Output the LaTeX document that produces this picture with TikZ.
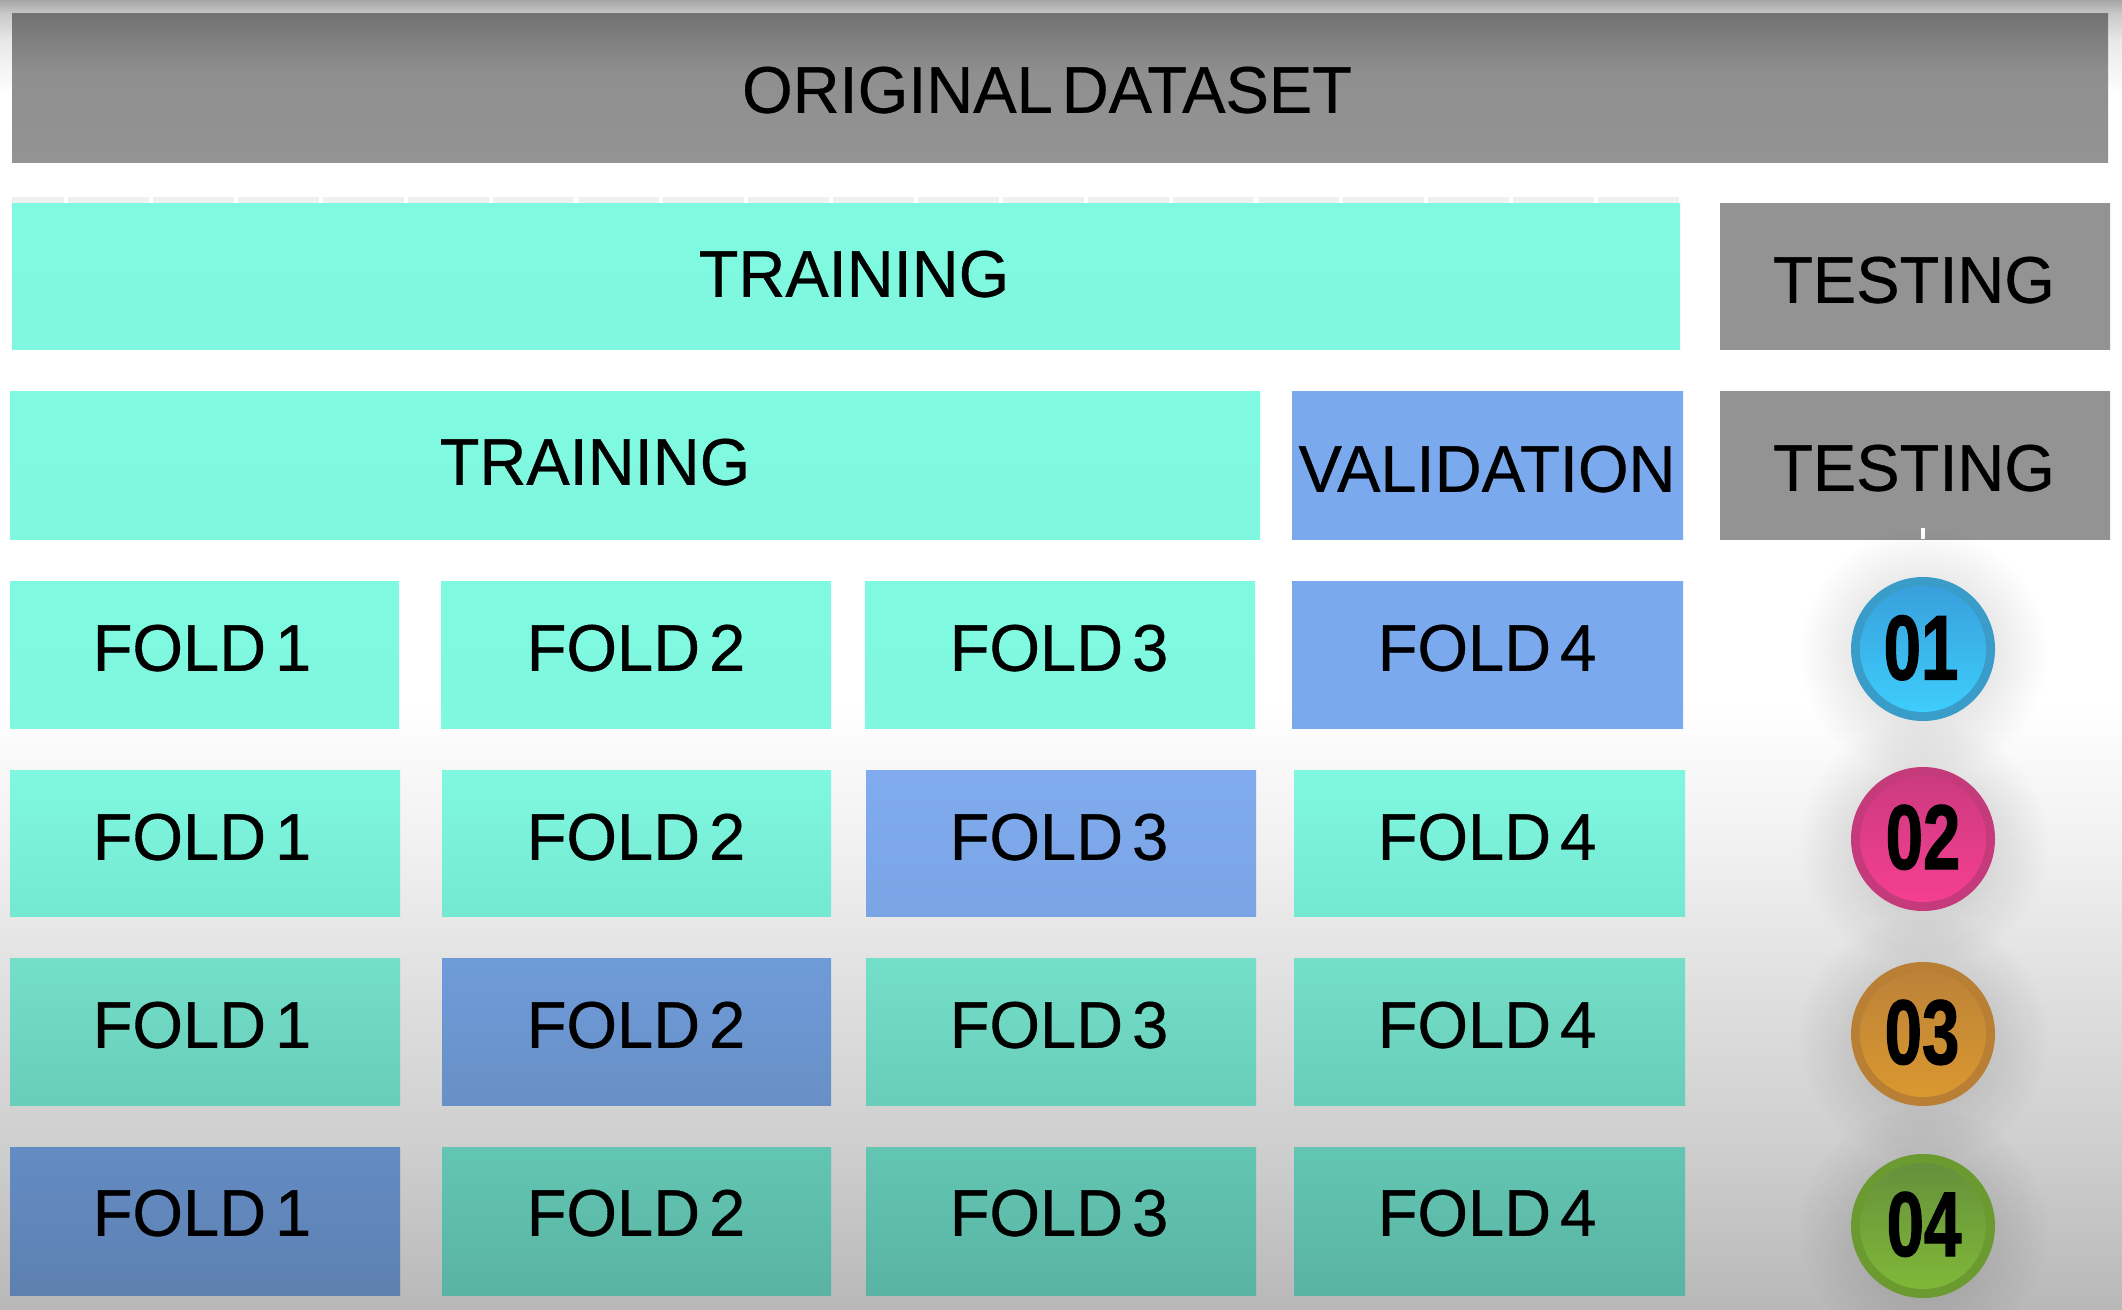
\documentclass[tikz,border=0pt]{standalone}
\usepackage{fontspec}
\setmainfont[FakeStretch=0.985,FakeBold=0.5]{Liberation Sans}
\newfontfamily\numfont[FakeStretch=0.73,FakeBold=1.2]{Liberation Sans Bold}
\usetikzlibrary{fadings}
\tikzfading[name=softglow, inner color=transparent!80, outer color=transparent!100]
\definecolor{bgA}{HTML}{A6A6A6}
\definecolor{bgB}{HTML}{C8C8C8}
\definecolor{bgC}{HTML}{E8E8E8}
\definecolor{bgD}{HTML}{F0F0F0}
\definecolor{bgE}{HTML}{DEDEDE}
\definecolor{bgF}{HTML}{CECECE}
\definecolor{bgG}{HTML}{B8B8B8}
\tikzset{
  x=1pt,y=-1pt,
  cellbox/.style={rectangle,inner sep=0pt,outer sep=0pt,draw=none},
  lbl/.style={inner sep=0pt,outer sep=0pt,text=black,font=\fontsize{66}{66}\selectfont,execute at begin node={\spaceskip=9pt plus 0pt\relax},text height=47.5pt,text depth=0pt},
  num/.style={inner sep=0pt,outer sep=0pt,text=black,font=\numfont\fontsize{92}{92}\selectfont,text height=66pt,text depth=0pt},
}
\definecolor{tA}{HTML}{80F9E1}
\definecolor{tB}{HTML}{80F8E0}
\definecolor{tC}{HTML}{74E8D2}
\definecolor{tD}{HTML}{74DFC8}
\definecolor{tE}{HTML}{68CDB9}
\definecolor{tF}{HTML}{62C6B2}
\definecolor{tG}{HTML}{5AB3A3}
\definecolor{bA}{HTML}{7AA9EE}
\definecolor{bB}{HTML}{80ABEE}
\definecolor{bC}{HTML}{7AA4E4}
\definecolor{bD}{HTML}{6F9BD9}
\definecolor{bE}{HTML}{6890C6}
\definecolor{bF}{HTML}{648CC4}
\definecolor{bG}{HTML}{5D80B0}
\definecolor{gA}{HTML}{727272}
\definecolor{gB}{HTML}{8F8F8F}
\definecolor{gC}{HTML}{939393}
\pgfdeclareverticalshading{origshade}{100bp}{color(0bp)=(gC);color(25bp)=(gC);color(55bp)=(gB);color(75bp)=(gA);color(100bp)=(gA)}
% name, x1, y1, x2, y2, top colour, bottom colour, text, text x, text y
\newcommand\cellbox[2]{%
  \def\cname{#1}\def\cxa{#2}\cellboxB}
\newcommand\cellboxB[8]{%
  \pgfmathsetmacro\cw{#2-\cxa}\pgfmathsetmacro\ch{#3-#1}%
  \pgfmathsetmacro\cx{(#2+\cxa)/2}\pgfmathsetmacro\cy{(#3+#1)/2}%
  \node[cellbox,minimum width=\cw pt,minimum height=\ch pt,top color=#4,bottom color=#5] (\cname) at (\cx,\cy) {};
  \node[lbl] (\cname-text) at (#7,#8) {#6};}
% name, cx, cy, ring, inner top, inner bottom, number, text x, text y
\newcommand\badge[9]{%
  \fill[black,path fading=softglow] (#2,#3+4) circle (125);
  \node[circle,fill=#4,minimum size=144pt,inner sep=0pt,outer sep=0pt] (#1) at (#2,#3) {};
  \node[circle,top color=#5,bottom color=#6,minimum size=126pt,inner sep=0pt,outer sep=0pt] (#1-in) at (#2,#3) {};
  \node[num] (#1-text) at (#8,#9) {#7};}
\begin{document}
\begin{tikzpicture}
\useasboundingbox (0,0) rectangle (2122,1309);
% background
\fill[white] (0,0) rectangle (2122,1309);
\shade[top color=bgA,bottom color=bgB] (0,0) rectangle (2122,13.5);
\shade[top color=bgB,bottom color=bgC] (0,13) rectangle (2122,40.5);
\shade[top color=bgC,bottom color=white] (0,40) rectangle (2122,95);
\shade[top color=white,bottom color=bgD] (0,700) rectangle (2122,850.5);
\shade[top color=bgD,bottom color=bgE] (0,850) rectangle (2122,1000.5);
\shade[top color=bgE,bottom color=bgF] (0,1000) rectangle (2122,1150.5);
\shade[top color=bgF,bottom color=bgG] (0,1150) rectangle (2122,1309);
% ticked edge above the first training bar
\fill[bgD] (12,197) rectangle (1680,203);
\foreach \k in {0,...,19}{\fill[white] ({66+85*\k-2},197) rectangle ({66+85*\k+2},203);}
% header rows
\node[cellbox,minimum width=2096pt,minimum height=149pt,shade,shading=origshade] (orig) at (1060,87.5) {};
\node[lbl] (orig-text) at (1047,89) {ORIGINAL DATASET};
\cellbox{train1}{12}{203}{1680}{349}{tA}{tB}{TRAINING}{854}{273}
\cellbox{test1}{1720}{203}{2110}{349}{gC}{gC}{TESTING}{1914}{279}
\cellbox{train2}{10}{391}{1260}{539}{tA}{tB}{TRAINING}{595}{461}
\cellbox{valid}{1292}{391}{1683}{539}{bA}{bA}{VALIDATION}{1487}{468}
\cellbox{test2}{1720}{391}{2110}{539}{gC}{gC}{TESTING}{1914}{467}
\fill[white] (1921,528) rectangle (1925,539);
% fold rows
\cellbox{a1}{10}{581}{399}{728}{tA}{tB}{FOLD 1}{202}{647}
\cellbox{a2}{441}{581}{831}{728}{tA}{tB}{FOLD 2}{636}{647}
\cellbox{a3}{865}{581}{1255}{728}{tA}{tB}{FOLD 3}{1059}{647}
\cellbox{a4}{1292}{581}{1683}{728}{bA}{bA}{FOLD 4}{1487}{647}
\cellbox{b1}{10}{770}{400}{916}{tB}{tC}{FOLD 1}{202}{836}
\cellbox{b2}{442}{770}{831}{916}{tB}{tC}{FOLD 2}{636}{836}
\cellbox{b3}{866}{770}{1256}{916}{bB}{bC}{FOLD 3}{1059}{836}
\cellbox{b4}{1294}{770}{1685}{916}{tB}{tC}{FOLD 4}{1487}{836}
\cellbox{c1}{10}{958}{400}{1105}{tD}{tE}{FOLD 1}{202}{1024}
\cellbox{c2}{442}{958}{831}{1105}{bD}{bE}{FOLD 2}{636}{1024}
\cellbox{c3}{866}{958}{1256}{1105}{tD}{tE}{FOLD 3}{1059}{1024}
\cellbox{c4}{1294}{958}{1685}{1105}{tD}{tE}{FOLD 4}{1487}{1024}
\cellbox{d1}{10}{1147}{400}{1295}{bF}{bG}{FOLD 1}{202}{1212}
\cellbox{d2}{442}{1147}{831}{1295}{tF}{tG}{FOLD 2}{636}{1212}
\cellbox{d3}{866}{1147}{1256}{1295}{tF}{tG}{FOLD 3}{1059}{1212}
\cellbox{d4}{1294}{1147}{1685}{1295}{tF}{tG}{FOLD 4}{1487}{1212}
% badges
\definecolor{rA}{HTML}{3A9CC8}\definecolor{rB}{HTML}{C53A7A}\definecolor{rC}{HTML}{B87F35}\definecolor{rD}{HTML}{6A9A30}
\definecolor{iA}{HTML}{38A0DC}\definecolor{jA}{HTML}{3ECDFC}
\definecolor{iB}{HTML}{CC3A80}\definecolor{jB}{HTML}{F53F90}
\definecolor{iC}{HTML}{BC8238}\definecolor{jC}{HTML}{DA982F}
\definecolor{iD}{HTML}{66903C}\definecolor{jD}{HTML}{7FB838}
\badge{n1}{1923}{649}{rA}{iA}{jA}{01}{1921}{646.5}
\badge{n2}{1923}{839}{rB}{iB}{jB}{02}{1923}{836}
\badge{n3}{1923}{1034}{rC}{iC}{jC}{03}{1922}{1031}
\badge{n4}{1923}{1226}{rD}{iD}{jD}{04}{1924}{1223}
\end{tikzpicture}
\end{document}
